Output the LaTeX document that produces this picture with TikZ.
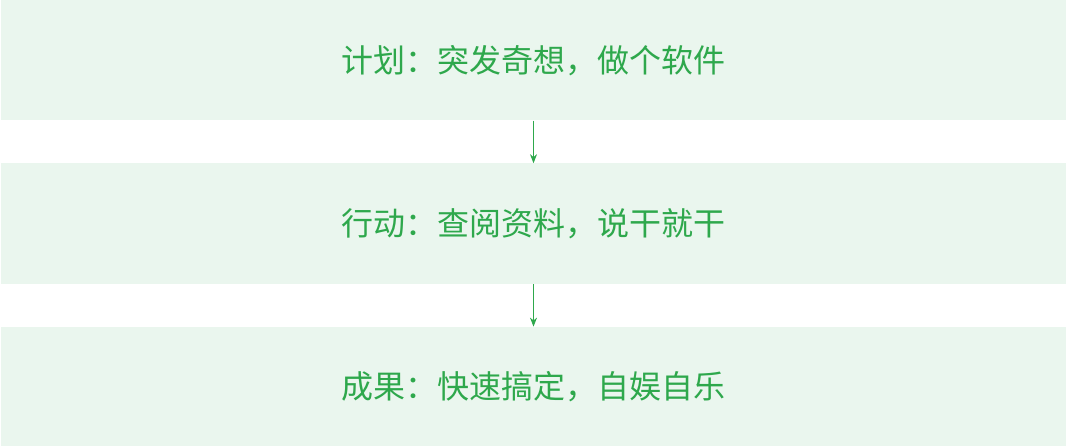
\documentclass[tikz,border=0pt]{standalone}
\usepackage{fontspec}
\newfontfamily\cjk{Noto Sans CJK SC}
\usetikzlibrary{positioning,arrows.meta}
\definecolor{stagefill}{HTML}{EAF6EE}
\definecolor{stagetext}{HTML}{2EA84C}
\tikzset{
  stage/.style={fill=stagefill, draw=none, minimum width=1065pt, minimum height=120.5pt,
    inner sep=0pt, text=stagetext, font=\cjk\fontsize{32pt}{36pt}\selectfont},
  flow/.style={stagetext, line width=0.8pt, -{Stealth[length=9pt,width=7pt]}}
}
\begin{document}
\begin{tikzpicture}[x=1pt,y=1pt, node distance=42.5pt]
\useasboundingbox (0,0) rectangle (1066,446);
\node[stage] (plan) at (533.5,385.75) {计划：突发奇想，做个软件};
\node[stage, below=of plan] (act) {行动：查阅资料，说干就干};
\node[stage, below=of act] (result) {成果：快速搞定，自娱自乐};
\draw[flow] (plan.south) -- (act.north);
\draw[flow] (act.south) -- (result.north);
\end{tikzpicture}
\end{document}
